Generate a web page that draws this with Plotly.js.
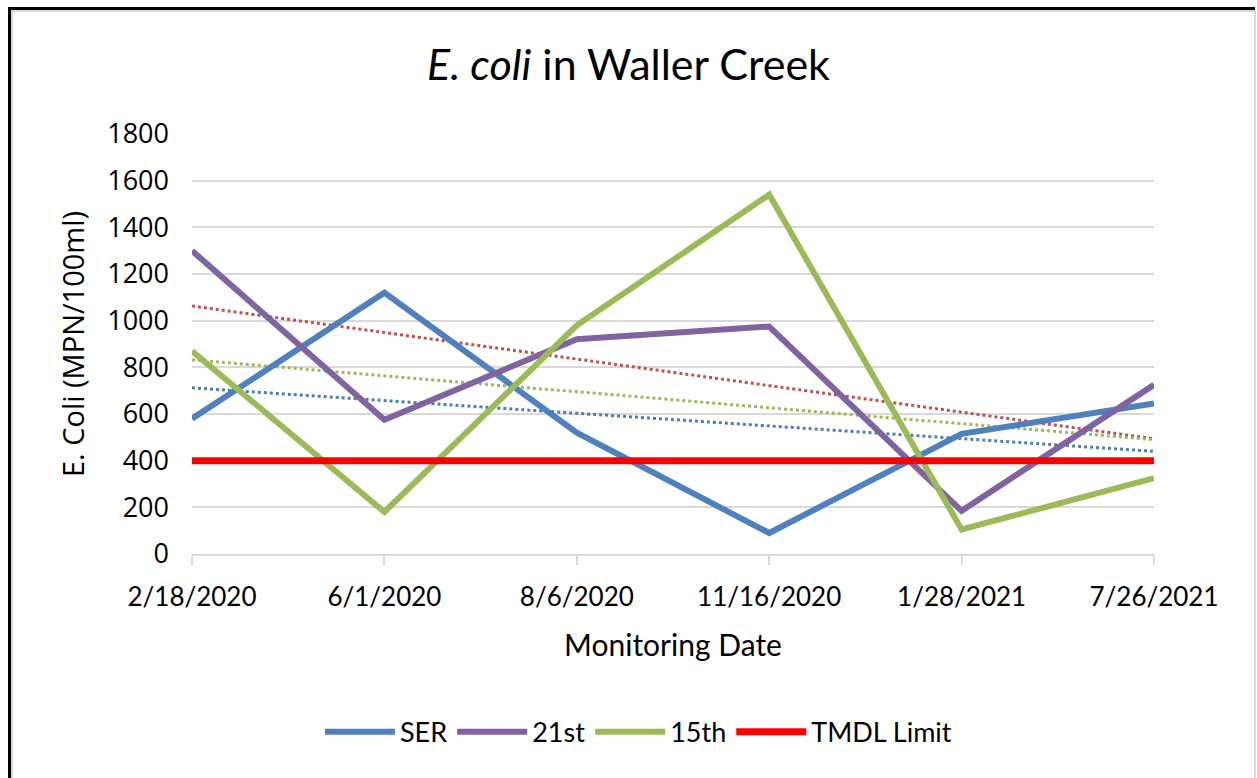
<!DOCTYPE html>
<html>
<head>
<meta charset="utf-8">
<script src="https://cdn.plot.ly/plotly-3.0.1.min.js"></script>
<style>
  html, body { margin: 0; padding: 0; background: #ffffff; }
  #frame { position: absolute; left: 8px; top: 7px; width: 1247px; height: 771px;
           border-top: 3px solid #000; border-left: 3px solid #000; box-sizing: border-box; }
  #inner { position: absolute; left: 11px; top: 10px; width: 1245px; height: 768px;
           border-top: 2px solid #d9d9d9; border-left: 2px solid #d9d9d9; border-right: 2px solid #d9d9d9; box-sizing: border-box; }
  #chart { position: absolute; left: 0; top: 0; width: 1257px; height: 778px; }
</style>
</head>
<body>
<div id="frame"></div>
<div id="inner"></div>
<div id="chart"></div>
<script>
// ---- data ----
const dates = ["2/18/2020", "6/1/2020", "8/6/2020", "11/16/2020", "1/28/2021", "7/26/2021"];
const ser   = [580, 1120, 520, 90, 515, 645];
const st21  = [1300, 575, 920, 975, 185, 725];
const th15  = [870, 180, 980, 1540, 105, 325];
const tmdl  = [400, 400, 400, 400, 400, 400];
// linear trend lines (Excel), endpoints
const trendDates = ["2/18/2020", "7/26/2021"];
const serTrend  = [712, 440];
const st21Trend = [1063, 494];
const th15Trend = [832, 490];

const traces = [
  {x: trendDates, y: serTrend,  mode: "lines", line: {color: "#4a7ebb", width: 3, dash: "dot"}, showlegend: false, hoverinfo: "skip"},
  {x: trendDates, y: st21Trend, mode: "lines", line: {color: "#c0504d", width: 3, dash: "dot"}, showlegend: false, hoverinfo: "skip"},
  {x: trendDates, y: th15Trend, mode: "lines", line: {color: "#9bbb59", width: 3, dash: "dot"}, showlegend: false, hoverinfo: "skip"},
  {x: dates, y: ser,  name: "SER",        mode: "lines", line: {color: "#4f81bd", width: 6}},
  {x: dates, y: st21, name: "21st",       mode: "lines", line: {color: "#8064a2", width: 6}},
  {x: dates, y: th15, name: "15th",       mode: "lines", line: {color: "#9bbb59", width: 6}},
  {x: dates, y: tmdl, name: "TMDL Limit", mode: "lines", line: {color: "#ff0000", width: 7}}
];

const layout = {
  width: 1257, height: 778,
  paper_bgcolor: "rgba(0,0,0,0)", plot_bgcolor: "rgba(0,0,0,0)",
  margin: {l: 192, r: 103, t: 134, b: 224, autoexpand: false},
  title: {text: "<i>E. coli</i> in Waller Creek", x: 0.5, xanchor: "center", y: 0.917, yanchor: "middle",
          font: {family: "Lato, 'Open Sans', sans-serif", size: 43, color: "#000"}},
  xaxis: {
    type: "category", categoryorder: "array", categoryarray: dates,
    range: [0, 5], showgrid: false, zeroline: false,
    showline: true, linecolor: "#d9d9d9", linewidth: 2,
    ticks: "outside", ticklen: 9, tickwidth: 2, tickcolor: "#d9d9d9",
    ticklabelstandoff: 10,
    tickfont: {family: "Lato, sans-serif", size: 26, color: "#000"},
    title: {text: "Monitoring Date", standoff: 24, font: {family: "Lato, sans-serif", size: 30, color: "#000"}}
  },
  yaxis: {
    range: [0, 1800], dtick: 200, tick0: 0, showgrid: true, gridcolor: "#d9d9d9", gridwidth: 2,
    zeroline: false, showline: false, ticks: "",
    ticklabelstandoff: 22,
    tickfont: {family: "'Open Sans', sans-serif", size: 27, color: "#000"},
    title: {text: "E. Coli (MPN/100ml)", standoff: 14, font: {family: "'Open Sans', sans-serif", size: 29, color: "#000"}}
  },
  legend: {orientation: "h", x: 0.133, xanchor: "left", y: -0.424, yanchor: "middle",
           font: {family: "Lato, sans-serif", size: 27, color: "#000"}, itemwidth: 70, traceorder: "normal"},
  showlegend: true
};

Plotly.newPlot("chart", traces, layout, {displayModeBar: false, staticPlot: true});
</script>
</body>
</html>
